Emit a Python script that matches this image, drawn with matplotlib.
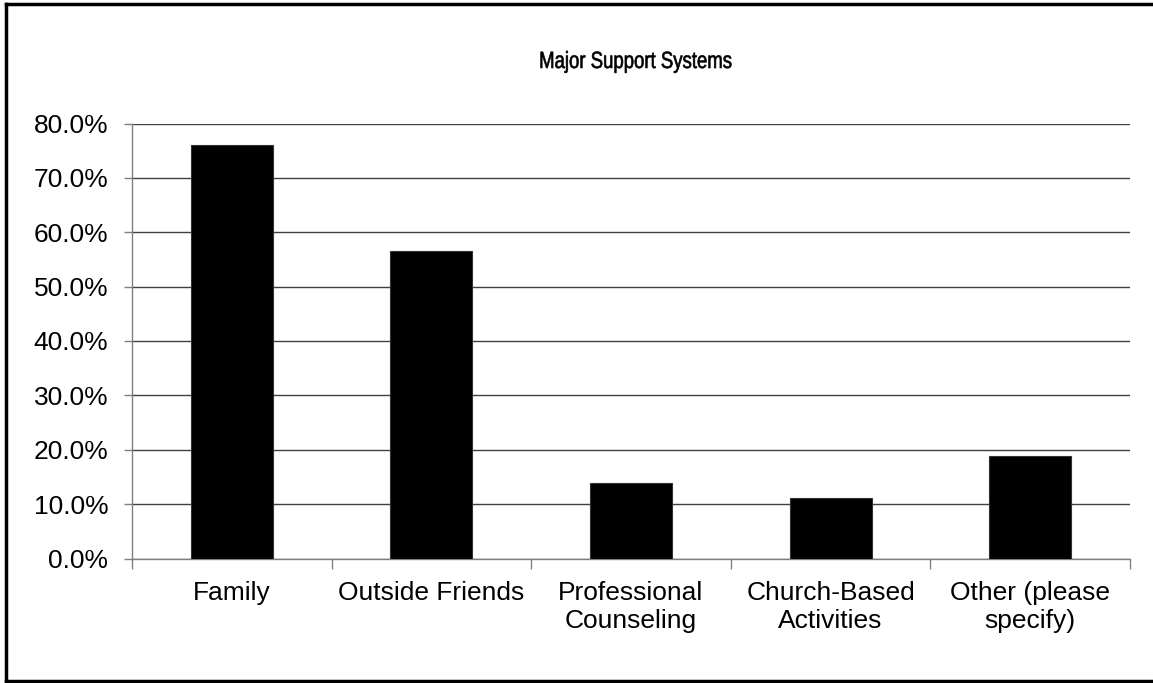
import matplotlib
matplotlib.use("Agg")
import matplotlib.pyplot as plt
from matplotlib.ticker import FuncFormatter, FixedLocator, NullFormatter
from matplotlib.lines import Line2D
from matplotlib.textpath import TextPath
from matplotlib.patches import PathPatch
from matplotlib.font_manager import FontProperties
from matplotlib.transforms import Affine2D

plt.rcParams['font.family'] = ['Liberation Sans', 'DejaVu Sans']

# Share of respondents naming each support system (%)
categories = ["Family", "Outside Friends", "Professional\nCounseling",
              "Church-Based\nActivities", "Other (please\nspecify)"]
values = [76.0, 56.6, 13.8, 11.2, 18.9]
y_ticks = [0, 10, 20, 30, 40, 50, 60, 70, 80]
title = "Major Support Systems"

W, H, DPI = 1153, 683, 100
fig = plt.figure(figsize=(W / DPI, H / DPI), dpi=DPI)
fig.patch.set_facecolor("white")

ax = fig.add_axes([132 / W, 1 - 558.5 / H, (1130 - 132) / W, (558.5 - 123.5) / H])

x = list(range(len(categories)))
ax.bar(x, values, width=0.41, color="black", edgecolor="#333333", linewidth=0.8, zorder=3)

ax.set_xlim(-0.5, len(categories) - 0.5)
ax.set_ylim(0, 80)

# Horizontal gridlines
ax.yaxis.set_major_locator(FixedLocator(y_ticks))
ax.yaxis.grid(True, color="#404040", linewidth=1.0, zorder=0)
ax.set_axisbelow(True)
ax.yaxis.set_major_formatter(FuncFormatter(lambda v, p: f"{v:.1f}%"))
ax.tick_params(axis="y", which="major", direction="out", length=6, width=1,
               color="#808080", pad=11, labelsize=19, labelcolor="black")

# Category labels centred under bars; tick marks at category boundaries
ax.set_xticks(x)
ax.set_xticklabels(categories, fontsize=19, linespacing=1.25)
ax.tick_params(axis="x", which="major", length=0, pad=16)
ax.xaxis.set_minor_locator(FixedLocator([i - 0.5 for i in range(len(categories) + 1)]))
ax.xaxis.set_minor_formatter(NullFormatter())
ax.tick_params(axis="x", which="minor", direction="out", length=7, width=1, color="#808080")

for side in ("top", "right"):
    ax.spines[side].set_visible(False)
ax.spines["left"].set_color("#808080")
ax.spines["bottom"].set_color("#808080")
ax.spines["left"].set_linewidth(1)
ax.spines["bottom"].set_linewidth(1)

# Title drawn as a condensed glyph outline, placed in pixel coordinates
title_px = 23.5
tp = TextPath((0, 0), title, size=title_px, prop=FontProperties(family="Liberation Sans"))
bb = tp.get_extents()
sx = 0.79
cx, base_y = 636, 683 - 68
tr = (Affine2D().translate(-(bb.x0 + bb.width / 2), 0).scale(sx, 1.0)
      .translate(cx, base_y))
fig.add_artist(PathPatch(tr.transform_path(tp), facecolor="black", edgecolor="black",
                         linewidth=0.45, transform=None))

# Chart-area frame (left, top, bottom edges)
frame_kw = dict(color="black", linewidth=2.5, transform=fig.transFigure, solid_capstyle="projecting")
fig.add_artist(Line2D([6 / W, 6 / W], [1 - 4 / H, 1 - 681 / H], **frame_kw))
fig.add_artist(Line2D([6 / W, 1.0], [1 - 4 / H, 1 - 4 / H], **frame_kw))
fig.add_artist(Line2D([6 / W, 1.0], [1 - 681 / H, 1 - 681 / H], **frame_kw))

fig.savefig("out.png", dpi=DPI, facecolor="white")
